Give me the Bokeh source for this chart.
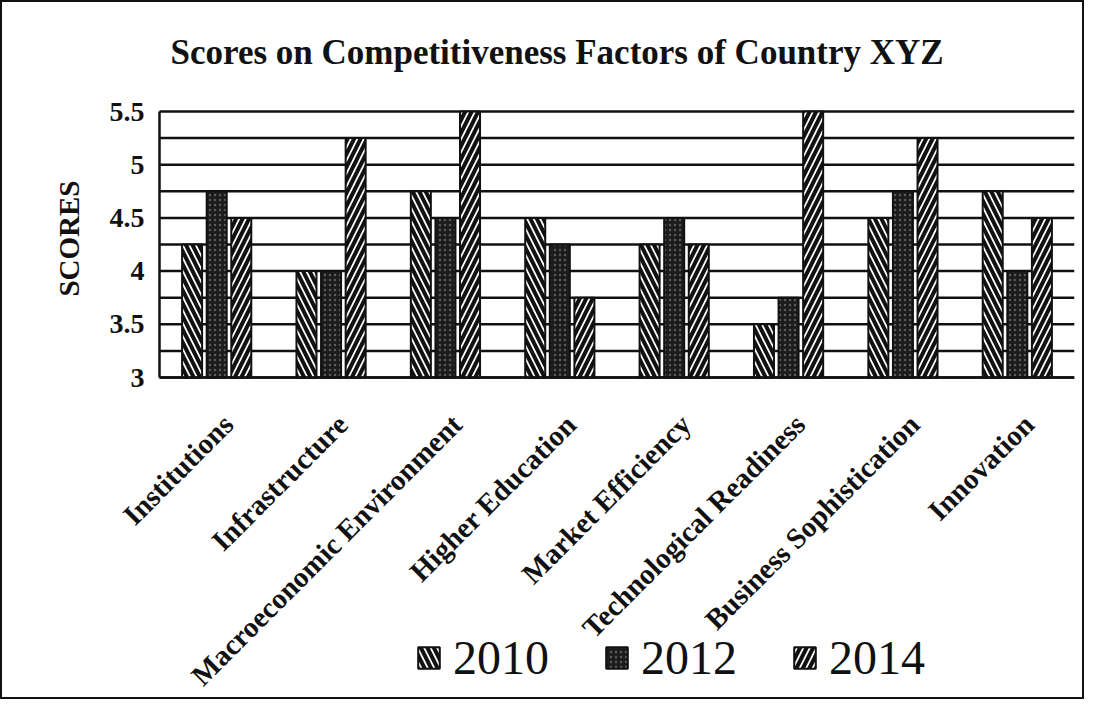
import math
from bokeh.plotting import figure
from bokeh.models import (ColumnDataSource, Range1d, FixedTicker, Legend, LegendItem, Title)
from bokeh.transform import dodge
from bokeh.embed import file_html
from bokeh.resources import INLINE

categories = ["Institutions", "Infrastructure", "Macroeconomic Environment", "Higher Education",
              "Market Efficiency", "Technological Readiness", "Business Sophistication", "Innovation"]
years = ["2010", "2012", "2014"]
s2010 = [4.25, 4.0, 4.75, 4.5, 4.25, 3.5, 4.5, 4.75]
s2012 = [4.75, 4.0, 4.5, 4.25, 4.5, 3.75, 4.75, 4.0]
s2014 = [4.5, 5.25, 5.5, 3.75, 4.25, 5.5, 5.25, 4.5]
y_ticks = [3, 3.5, 4, 4.5, 5, 5.5]
y_minor = [3.25, 3.75, 4.25, 4.75, 5.25]
y_min, y_max = 3, 5.5

n = len(categories)
centers = [i + 0.5 for i in range(n)]
src = ColumnDataSource(dict(xc=centers, cat=categories, y2010=s2010, y2012=s2012, y2014=s2014,
                            base=[y_min] * n))

SERIF = "Liberation Serif"
W, H = 1084, 699
BAND_TOP = 109       # figure pixel of the 5.5 line
HEAD = 20            # extra frame room above the 5.5 line for its tick label
TOP, BOTTOM = BAND_TOP - HEAD, 10
LEFT, RIGHT = 88, 12
BAND_LEFT = 157      # where the score band (and y axis) starts, in figure pixels
AXIS_PX = 266        # pixel height of the 3..5.5 score band
frame_h = H - TOP - BOTTOM
px_per_unit = AXIS_PX / (y_max - y_min)
y_top = y_max + HEAD / px_per_unit
y_low = y_top - frame_h / px_per_unit
px_per_cat = (W - RIGHT - BAND_LEFT) / n
x_low = -(BAND_LEFT - LEFT) / px_per_cat

p = figure(x_range=Range1d(x_low, n), y_range=Range1d(y_low, y_top),
           width=W, height=H, output_backend="svg", toolbar_location=None,
           min_border_left=LEFT, min_border_right=RIGHT, min_border_top=TOP, min_border_bottom=BOTTOM)
p.styles = {"border": "2px solid #111", "box-sizing": "border-box"}

p.title.text = "Scores on Competitiveness Factors of Country XYZ"
p.title.text_font = SERIF
p.title.text_font_size = "35px"
p.title.text_font_style = "bold"
p.title.align = "left"
p.title.offset = 80
p.title.text_color = "#111"
p.title.standoff = 40

p.outline_line_color = None
p.background_fill_color = "white"
p.xgrid.grid_line_color = None
p.ygrid.grid_line_color = None

# horizontal score lines across the band only
grid_levels = sorted(y_ticks + y_minor)
p.segment(x0=[0] * len(grid_levels), x1=[n] * len(grid_levels), y0=grid_levels, y1=grid_levels,
          line_color="#111", line_width=2.5)

bw = 0.175
off = 0.215
r1 = p.vbar(x=dodge("xc", -off), top="y2010", bottom="base", width=bw, source=src,
            fill_color="white", line_color="#111", line_width=2,
            hatch_pattern="\\", hatch_color="#111", hatch_weight=4, hatch_scale=13)
r2 = p.vbar(x=dodge("xc", 0), top="y2012", bottom="base", width=bw, source=src,
            fill_color="#1c1c1c", line_color="#111", line_width=2,
            hatch_pattern="dot", hatch_color="#5a5a5a", hatch_weight=1.5, hatch_scale=5)
r3 = p.vbar(x=dodge("xc", off), top="y2014", bottom="base", width=bw, source=src,
            fill_color="white", line_color="#111", line_width=2,
            hatch_pattern="/", hatch_color="#111", hatch_weight=4, hatch_scale=13)

# y axis at the left edge of the band
p.yaxis.fixed_location = 0
p.yaxis.ticker = FixedTicker(ticks=y_ticks, minor_ticks=[])
p.yaxis.bounds = (y_min, y_max)
p.yaxis.major_tick_line_color = None
p.yaxis.minor_tick_line_color = None
p.yaxis.axis_line_color = "#111"
p.yaxis.axis_line_width = 2.5
p.yaxis.major_label_text_font = SERIF
p.yaxis.major_label_text_font_size = "28px"
p.yaxis.major_label_text_font_style = "bold"
p.yaxis.major_label_text_color = "#111"
p.yaxis.major_label_standoff = 9

ylab = Title(text="SCORES", text_font=SERIF, text_font_size="29px", text_font_style="bold",
             text_color="#111", align="right", offset=66 + HEAD + 3, standoff=12)
p.add_layout(ylab, "left")

# category axis drawn along the score 3 baseline
label_shift = 0.1
p.xaxis.fixed_location = y_min
p.xaxis.ticker = FixedTicker(ticks=[c + label_shift for c in centers], minor_ticks=[])
p.xaxis.major_label_overrides = {c + label_shift: name for c, name in zip(centers, categories)}
p.xaxis.bounds = (0, n)
p.xaxis.axis_line_color = "#111"
p.xaxis.axis_line_width = 2.5
p.xaxis.major_tick_line_color = None
p.xaxis.minor_tick_line_color = None
p.xaxis.major_label_orientation = math.pi / 4
p.xaxis.major_label_text_font = SERIF
p.xaxis.major_label_text_font_size = "29px"
p.xaxis.major_label_text_font_style = "bold"
p.xaxis.major_label_text_color = "#111"
p.xaxis.major_label_standoff = 36

legend = Legend(items=[LegendItem(label=years[0], renderers=[r1]),
                       LegendItem(label=years[1], renderers=[r2]),
                       LegendItem(label=years[2], renderers=[r3])],
                orientation="horizontal", location=(325, 6),
                label_text_font=SERIF, label_text_font_size="48px", label_text_color="#111",
                glyph_width=27, glyph_height=27, spacing=54, label_standoff=11,
                background_fill_alpha=0, border_line_color=None, padding=0, margin=0)
p.add_layout(legend, "center")

open("out.html", "w").write(file_html(p, INLINE))
